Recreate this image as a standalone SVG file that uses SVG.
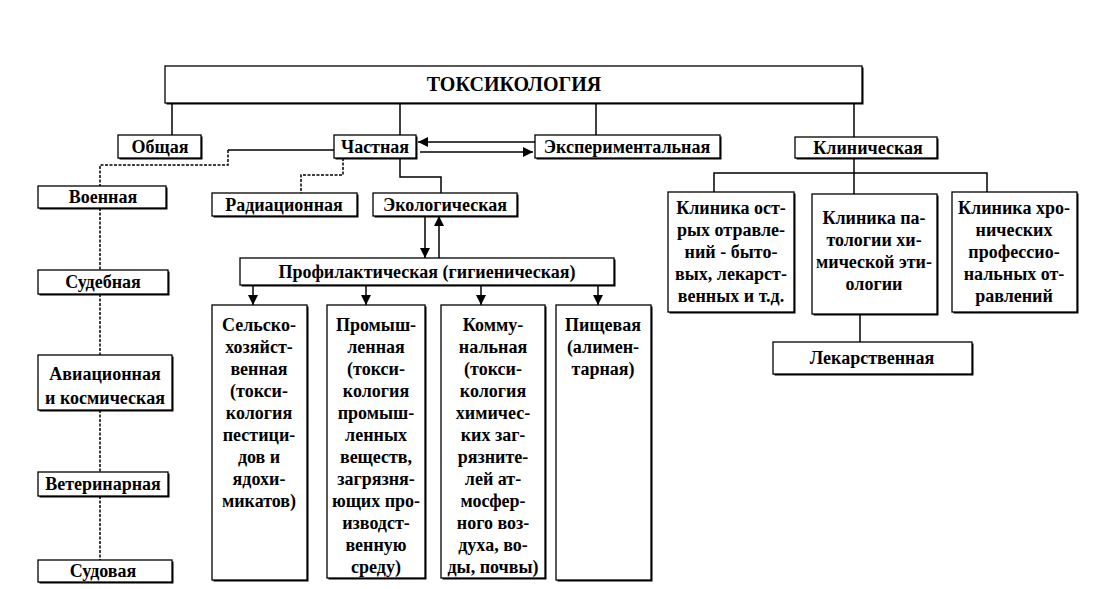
<svg xmlns="http://www.w3.org/2000/svg" width="1109" height="589" viewBox="0 0 1109 589" font-family="Liberation Serif, Times New Roman, serif" font-weight="bold" font-size="18">
<style>
.sh{fill:#000}
.bx{fill:#fff;stroke:#000;stroke-width:1.3}
text{fill:#000;text-anchor:middle}
.tt{font-size:20px}
.c{fill:none;stroke:#000;stroke-width:1.5}
.d{fill:none;stroke:#000;stroke-width:1.5;stroke-dasharray:3 1.5}
</style>
<defs>
<marker id="ar" viewBox="0 0 10 10" refX="10" refY="5" markerWidth="10" markerHeight="10" markerUnits="userSpaceOnUse" orient="auto">
<path d="M0,0 L10,5 L0,10 Z" fill="#000"/>
</marker>
</defs>
<rect width="1109" height="589" fill="#fff"/>
<g id="connectors">
<path class="c" d="M172,103 V135"/>
<path class="c" d="M400,103 V135"/>
<path class="c" d="M596,103 V135"/>
<path class="c" d="M854,103 V137"/>
<path class="c" d="M535,142 H418" marker-end="url(#ar)"/>
<path class="c" d="M420,152 H533" marker-end="url(#ar)"/>
<path class="c" d="M854,158 V194"/>
<path class="c" d="M714,192 V173 H987 V192"/>
<path class="c" d="M860,314 V342"/>
<path class="c" d="M334,150 H228"/>
<path class="d" d="M228,150 V165 H100 V186"/>
<path class="d" d="M100,208 V270"/>
<path class="d" d="M100,294 V355"/>
<path class="d" d="M100,410 V472"/>
<path class="d" d="M100,496 V560"/>
<path class="d" d="M343,158 V175 H301 V193"/>
<path class="c" d="M400,158 V177 H441 V193"/>
<path class="c" d="M425,216 V258" marker-end="url(#ar)"/>
<path class="c" d="M439,258 V216" marker-end="url(#ar)"/>
<path class="c" d="M253,285 V305" marker-end="url(#ar)"/>
<path class="c" d="M366,285 V305" marker-end="url(#ar)"/>
<path class="c" d="M481,285 V305" marker-end="url(#ar)"/>
<path class="c" d="M598,285 V305" marker-end="url(#ar)"/>
</g>
<g id="toksikologiya">
<rect class="sh" x="166.5" y="67.5" width="697" height="37"/>
<rect class="bx" x="165" y="66" width="697" height="37"/>
<text class="tt" x="514" y="91">ТОКСИКОЛОГИЯ</text>
</g>
<g id="obshchaya">
<rect class="sh" x="119.5" y="136.5" width="83" height="23"/>
<rect class="bx" x="118" y="135" width="83" height="23"/>
<text x="160" y="153">Общая</text>
</g>
<g id="chastnaya">
<rect class="sh" x="335.5" y="136.5" width="82" height="23"/>
<rect class="bx" x="334" y="135" width="82" height="23"/>
<text x="375" y="153">Частная</text>
</g>
<g id="eksperimentalnaya">
<rect class="sh" x="536.5" y="136.5" width="185" height="23"/>
<rect class="bx" x="535" y="135" width="185" height="23"/>
<text x="627" y="153">Экспериментальная</text>
</g>
<g id="klinicheskaya">
<rect class="sh" x="796.5" y="138.5" width="142" height="21"/>
<rect class="bx" x="795" y="137" width="142" height="21"/>
<text x="868" y="154">Клиническая</text>
</g>
<g id="klinika-ostrykh">
<rect class="sh" x="669.5" y="193.5" width="126" height="120"/>
<rect class="bx" x="668" y="192" width="126" height="120"/>
<text x="731" y="214"><tspan x="731">Клиника ост-</tspan><tspan x="731" dy="22">рых отравле-</tspan><tspan x="731" dy="22">ний - быто-</tspan><tspan x="731" dy="22">вых, лекарст-</tspan><tspan x="731" dy="22">венных и т.д.</tspan></text>
</g>
<g id="klinika-patologii">
<rect class="sh" x="813.5" y="195.5" width="125" height="120"/>
<rect class="bx" x="812" y="194" width="125" height="120"/>
<text x="874" y="224"><tspan x="874">Клиника па-</tspan><tspan x="874" dy="22">тологии хи-</tspan><tspan x="874" dy="22">мической эти-</tspan><tspan x="874" dy="22">ологии</tspan></text>
</g>
<g id="klinika-khronicheskikh">
<rect class="sh" x="953.5" y="193.5" width="125" height="120"/>
<rect class="bx" x="952" y="192" width="125" height="120"/>
<text x="1014" y="214"><tspan x="1014">Клиника хро-</tspan><tspan x="1014" dy="22">нических</tspan><tspan x="1014" dy="22">профессио-</tspan><tspan x="1014" dy="22">нальных от-</tspan><tspan x="1014" dy="22">равлений</tspan></text>
</g>
<g id="lekarstvennaya">
<rect class="sh" x="774.5" y="343.5" width="199" height="32"/>
<rect class="bx" x="773" y="342" width="199" height="32"/>
<text x="872" y="364">Лекарственная</text>
</g>
<g id="voennaya">
<rect class="sh" x="39.5" y="187.5" width="128" height="22"/>
<rect class="bx" x="38" y="186" width="128" height="22"/>
<text x="103" y="203">Военная</text>
</g>
<g id="sudebnaya">
<rect class="sh" x="39.5" y="271.5" width="130" height="24"/>
<rect class="bx" x="38" y="270" width="130" height="24"/>
<text x="103" y="288">Судебная</text>
</g>
<g id="aviatsionnaya">
<rect class="sh" x="39.5" y="356.5" width="134" height="55"/>
<rect class="bx" x="38" y="355" width="134" height="55"/>
<text x="105" y="380"><tspan x="105">Авиационная</tspan><tspan x="105" dy="24">и космическая</tspan></text>
</g>
<g id="veterinarnaya">
<rect class="sh" x="39.5" y="473.5" width="130" height="24"/>
<rect class="bx" x="38" y="472" width="130" height="24"/>
<text x="103" y="490">Ветеринарная</text>
</g>
<g id="sudovaya">
<rect class="sh" x="39.5" y="561.5" width="134" height="22"/>
<rect class="bx" x="38" y="560" width="134" height="22"/>
<text x="103" y="577">Судовая</text>
</g>
<g id="radiatsionnaya">
<rect class="sh" x="213.5" y="194.5" width="145" height="23"/>
<rect class="bx" x="212" y="193" width="145" height="23"/>
<text x="284" y="211">Радиационная</text>
</g>
<g id="ekologicheskaya">
<rect class="sh" x="374.5" y="194.5" width="144" height="23"/>
<rect class="bx" x="373" y="193" width="144" height="23"/>
<text x="445" y="211">Экологическая</text>
</g>
<g id="profilakticheskaya">
<rect class="sh" x="241.5" y="259.5" width="374" height="27"/>
<rect class="bx" x="240" y="258" width="374" height="27"/>
<text x="427" y="278">Профилактическая (гигиеническая)</text>
</g>
<g id="selskokhozyaystvennaya">
<rect class="sh" x="213.5" y="306.5" width="95" height="275"/>
<rect class="bx" x="212" y="305" width="95" height="275"/>
<text x="259" y="331"><tspan x="259">Сельско-</tspan><tspan x="259" dy="22">хозяйст-</tspan><tspan x="259" dy="22">венная</tspan><tspan x="259" dy="22">(токси-</tspan><tspan x="259" dy="22">кология</tspan><tspan x="259" dy="22">пестици-</tspan><tspan x="259" dy="22">дов и</tspan><tspan x="259" dy="22">ядохи-</tspan><tspan x="259" dy="22">микатов)</tspan></text>
</g>
<g id="promyshlennaya">
<rect class="sh" x="328.5" y="306.5" width="98" height="273"/>
<rect class="bx" x="327" y="305" width="98" height="273"/>
<text x="376" y="331"><tspan x="376">Промыш-</tspan><tspan x="376" dy="22">ленная</tspan><tspan x="376" dy="22">(токси-</tspan><tspan x="376" dy="22">кология</tspan><tspan x="376" dy="22">промыш-</tspan><tspan x="376" dy="22">ленных</tspan><tspan x="376" dy="22">веществ,</tspan><tspan x="376" dy="22">загрязня-</tspan><tspan x="376" dy="22">ющих про-</tspan><tspan x="376" dy="22">изводст-</tspan><tspan x="376" dy="22">венную</tspan><tspan x="376" dy="22">среду)</tspan></text>
</g>
<g id="kommunalnaya">
<rect class="sh" x="442.5" y="306.5" width="104" height="273"/>
<rect class="bx" x="441" y="305" width="104" height="273"/>
<text x="493" y="331"><tspan x="493">Комму-</tspan><tspan x="493" dy="22">нальная</tspan><tspan x="493" dy="22">(токси-</tspan><tspan x="493" dy="22">кология</tspan><tspan x="493" dy="22">химичес-</tspan><tspan x="493" dy="22">ких заг-</tspan><tspan x="493" dy="22">рязните-</tspan><tspan x="493" dy="22">лей ат-</tspan><tspan x="493" dy="22">мосфер-</tspan><tspan x="493" dy="22">ного воз-</tspan><tspan x="493" dy="22">духа, во-</tspan><tspan x="493" dy="22">ды, почвы)</tspan></text>
</g>
<g id="pishchevaya">
<rect class="sh" x="557.5" y="306.5" width="95" height="275"/>
<rect class="bx" x="556" y="305" width="95" height="275"/>
<text x="603" y="331"><tspan x="603">Пищевая</tspan><tspan x="603" dy="22">(алимен-</tspan><tspan x="603" dy="22">тарная)</tspan></text>
</g>
</svg>
